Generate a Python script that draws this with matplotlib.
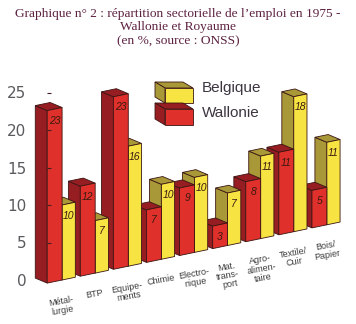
import numpy as np
import matplotlib.pyplot as plt
from matplotlib.patches import Polygon
from matplotlib.transforms import Affine2D

categories = ['Métal-\nlurgie', 'BTP', 'Equipe-\nments', 'Chimie', 'Electro-\nnique',
              'Mat.\ntrans-\nport', 'Agro-\nalimen-\ntaire', 'Textile/\nCuir', 'Bois/\nPapier']
wallonie = [23, 12, 23, 7, 9, 3, 8, 11, 5]
belgique = [10, 7, 16, 10, 10, 7, 11, 18, 11]
yticks = [0, 5, 10, 15, 20, 25]

RED, RED_DARK = '#e0302b', '#961d22'
YEL, YEL_DARK = '#f7e443', '#a89838'
EDGE = '#3b1512'
W, H = 356, 324

fig = plt.figure(figsize=(W / 100, H / 100), dpi=100)
ax = fig.add_axes([29 / W, 6.5 / H, 321 / W, 262.5 / H])

# oblique projection: the floor rises towards the right
slope = 0.92
skew = Affine2D(np.array([[1, 0, 0], [slope, 1, 0], [0, 0, 1]])) + ax.transData
dx, dy = -0.36, 1.0


def bar3d(x0, w, h, face, dark, z):
    side = Polygon([(x0, 0), (x0, h), (x0 + dx, h + dy), (x0 + dx, dy)], closed=True,
                   facecolor=dark, edgecolor=EDGE, lw=0.6, transform=skew, zorder=z)
    top = Polygon([(x0, h), (x0 + w, h), (x0 + w + dx, h + dy), (x0 + dx, h + dy)], closed=True,
                  facecolor=dark, edgecolor=EDGE, lw=0.6, transform=skew, zorder=z + 1)
    ax.add_patch(side)
    ax.add_patch(top)
    rect = ax.bar(x0, h, width=w, align='edge', color=face, edgecolor=EDGE, lw=0.6, zorder=z + 2)[0]
    rect.set_transform(skew)
    ax.text(x0 + w / 2, h - 1.6, str(h), transform=skew, ha='center', va='center',
            fontsize=7.5, style='italic', color='#3a1a10', zorder=z + 3,
            family='Liberation Sans')


n = len(categories)
for i in range(n - 1, -1, -1):
    z = (n - i) * 10
    bar3d(i, 0.40, belgique[i], YEL, YEL_DARK, z)
    bar3d(i - 0.45, 0.45, wallonie[i], RED, RED_DARK, z + 5)
    ax.text(i - 0.05, -2.2, categories[i], transform=skew, ha='center', va='top', rotation=10,
            rotation_mode='anchor', fontsize=6.5, linespacing=1.0, color='#3c3c3c',
            family='Liberation Sans')

# axis ticks
ax.hlines(yticks[1:], -0.45, -0.33, colors='#402020', lw=0.8, zorder=500)

ax.set_xlim(-1.0, 8.7)
ax.set_ylim(-5, 30)
ax.set_xticks([])
ax.set_yticks(yticks)
ax.tick_params(axis='y', length=0, pad=2, labelsize=11, labelcolor='#5a5a5e')
for lab in ax.get_yticklabels():
    lab.set_family('DejaVu Sans')
for s in ax.spines.values():
    s.set_visible(False)
ax.patch.set_alpha(0)

# legend boxes (pixel coordinates, top-left origin)
pix = Affine2D().scale(1 / W, -1 / H).translate(0, 1) + fig.transFigure
ldx, ldy = -10, -6
for (yb, y1, face, dark, name, ty) in [(88, 103, YEL, YEL_DARK, 'Belgique', 88),
                                       (109, 125, RED, RED_DARK, 'Wallonie', 113)]:
    x0, x1 = 165, 193
    fig.patches.append(Polygon([(x0, yb), (x1, yb), (x1 + ldx, yb + ldy), (x0 + ldx, yb + ldy)],
                               closed=True, fc=dark, ec=EDGE, lw=0.6, transform=pix))
    fig.patches.append(Polygon([(x0, yb), (x0, y1), (x0 + ldx, y1 + ldy), (x0 + ldx, yb + ldy)],
                               closed=True, fc=dark, ec=EDGE, lw=0.6, transform=pix))
    fig.patches.append(Polygon([(x0, yb), (x1, yb), (x1, y1), (x0, y1)],
                               closed=True, fc=face, ec=EDGE, lw=0.6, transform=pix))
    fig.text(202, ty, name, transform=pix, ha='left', va='center', fontsize=11,
             color='#3c3540', family='Liberation Sans')

fig.text(0.5, 1 - 7.5 / H,
         'Graphique n° 2 : répartition sectorielle de l’emploi en 1975 -\n'
         'Wallonie et Royaume\n(en %, source : ONSS)',
         ha='center', va='top', fontsize=9.6, linespacing=1.22, color='#5c2040',
         family='Liberation Serif')

fig.savefig('out.png', dpi=100, facecolor='white')
